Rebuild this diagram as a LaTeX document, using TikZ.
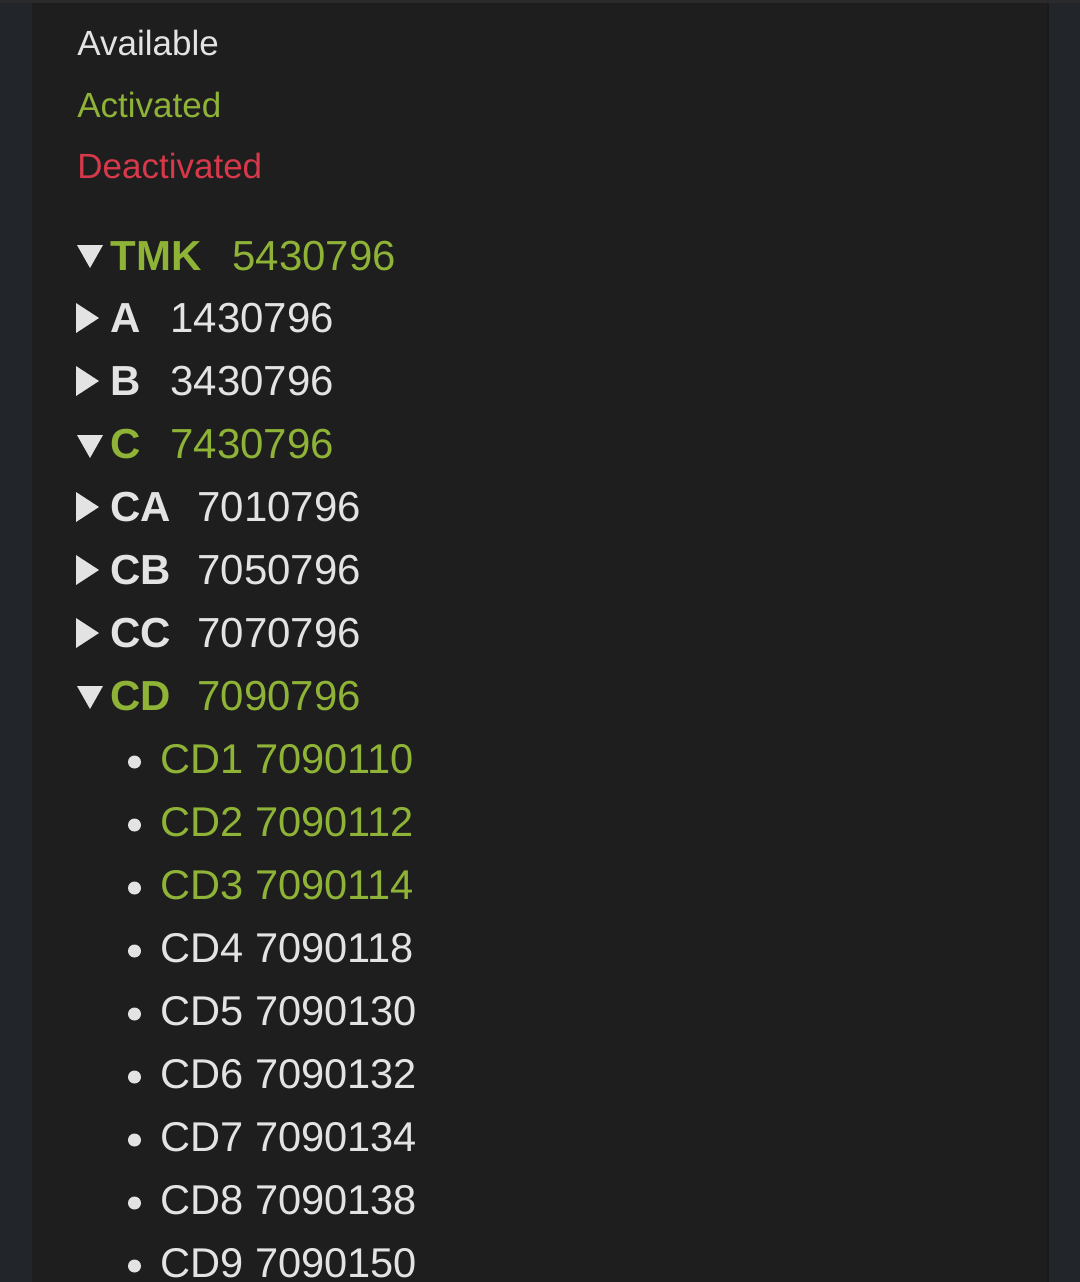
\documentclass[tikz,border=0pt]{standalone}
\usepackage{fontspec}
\setmainfont{Liberation Sans}
\usetikzlibrary{positioning}

\definecolor{outerbg}{HTML}{22262B}
\definecolor{panelbg}{HTML}{1E1E1E}
\definecolor{topbar}{HTML}{2A2A2A}
\definecolor{edgeline}{HTML}{191919}
\definecolor{avail}{HTML}{E3E3E3}
\definecolor{actgreen}{HTML}{8EB336}
\definecolor{deactred}{HTML}{D8394A}

\begin{document}
\begin{tikzpicture}[x=0.5pt,y=-0.5pt,
    legend/.style={anchor=base west,inner sep=0pt,font=\fontsize{17.5pt}{17.5pt}\selectfont},
    key/.style={anchor=base west,inner sep=0pt,font=\fontsize{21pt}{21pt}\selectfont\bfseries},
    num/.style={anchor=base west,inner sep=0pt,font=\fontsize{21pt}{21pt}\selectfont},
    leaf/.style={anchor=base west,inner sep=0pt,font=\fontsize{20.8pt}{20.8pt}\selectfont}]
    % Draw background and panel
    \useasboundingbox (0,0) rectangle (1080,1282);
    \fill[outerbg] (0,0) rectangle (1080,1282);
    \fill[panelbg] (32,0) rectangle (1049,1282);
    \fill[edgeline] (1047,0) rectangle (1049,1282);
    \fill[topbar] (0,0) rectangle (1080,3);

    % Legend
    \node[legend,text=avail] (available) at (77,55) {Available};
    \node[legend,text=actgreen] (activated) at (77,117) {Activated};
    \node[legend,text=deactred] (deactivated) at (77,178) {Deactivated};

    % Tree rows
    \node[key,text=actgreen] (tmk) at (110,270) {TMK};
    \node[num,text=actgreen] (tmknum) at (232,270) {5430796};
    \node[key,text=avail] (a) at (110,332) {A};
    \node[num,text=avail] (anum) at (170,332) {1430796};
    \node[key,text=avail] (b) at (110,395) {B};
    \node[num,text=avail] (bnum) at (170,395) {3430796};
    \node[key,text=actgreen] (c) at (110,458) {C};
    \node[num,text=actgreen] (cnum) at (170,458) {7430796};
    \node[key,text=avail] (ca) at (110,521) {CA};
    \node[num,text=avail] (canum) at (197,521) {7010796};
    \node[key,text=avail] (cb) at (110,584) {CB};
    \node[num,text=avail] (cbnum) at (197,584) {7050796};
    \node[key,text=avail] (cc) at (110,647) {CC};
    \node[num,text=avail] (ccnum) at (197,647) {7070796};
    \node[key,text=actgreen] (cd) at (110,710) {CD};
    \node[num,text=actgreen] (cdnum) at (197,710) {7090796};

    % Expand / collapse markers
    \foreach \y in {245,435,686}
        \fill[avail] (77,\y) -- (103,\y) -- (90,\y+23) -- cycle;
    \foreach \y in {303,366,492,555,618}
        \fill[avail] (76,\y) -- (99,\y+15) -- (76,\y+30) -- cycle;

    % Leaves of CD
    \node[leaf,text=actgreen] (cd1) at (160,773) {CD1 7090110};
    \node[leaf,text=actgreen] (cd2) at (160,836) {CD2 7090112};
    \node[leaf,text=actgreen] (cd3) at (160,899) {CD3 7090114};
    \node[leaf,text=avail] (cd4) at (160,962) {CD4 7090118};
    \node[leaf,text=avail] (cd5) at (160,1025) {CD5 7090130};
    \node[leaf,text=avail] (cd6) at (160,1088) {CD6 7090132};
    \node[leaf,text=avail] (cd7) at (160,1151) {CD7 7090134};
    \node[leaf,text=avail] (cd8) at (160,1214) {CD8 7090138};
    \node[leaf,text=avail] (cd9) at (160,1277) {CD9 7090150};
    \foreach \y in {773,836,899,962,1025,1088,1151,1214,1277}
        \fill[avail] (134.5,\y-11) circle (6.5);

\end{tikzpicture}
\end{document}
